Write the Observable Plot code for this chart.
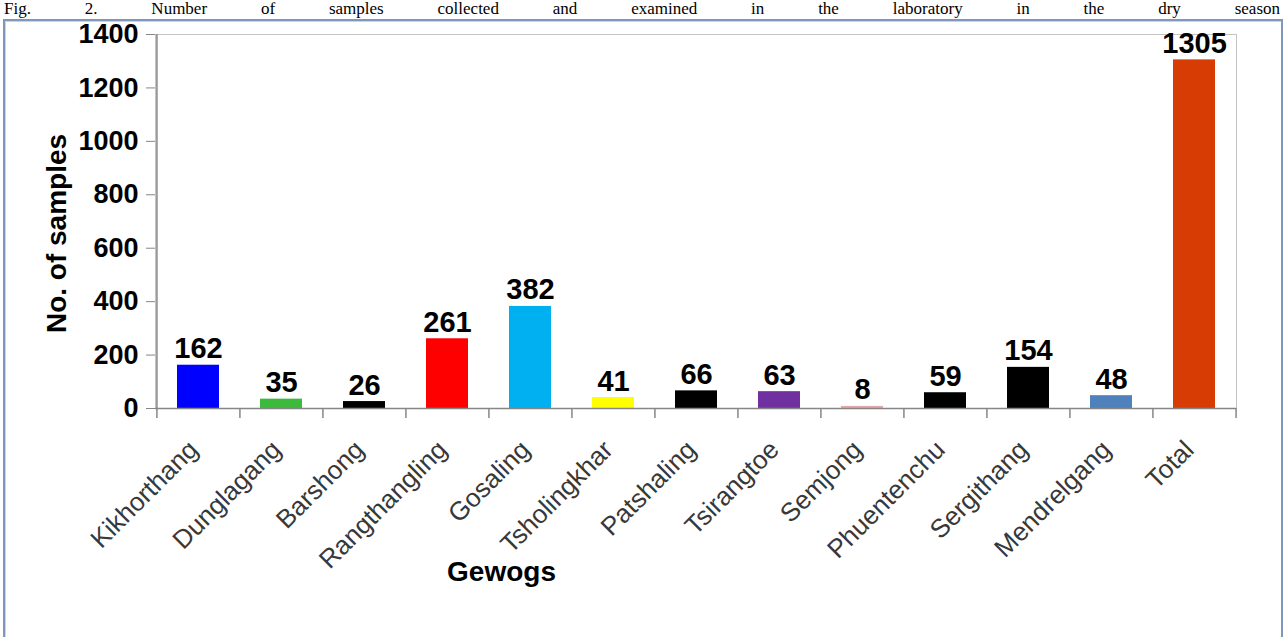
<!DOCTYPE html>
<html><head><meta charset="utf-8">
<script src="https://cdn.jsdelivr.net/npm/d3@7"></script>
<script src="https://cdn.jsdelivr.net/npm/@observablehq/plot@0.6"></script>
<style>
body{margin:0;background:#fff;width:1286px;height:637px;overflow:hidden;position:relative;font-family:"Liberation Sans",Arial,sans-serif}
#cap{position:absolute;left:4px;top:0;width:1276px;height:18px;line-height:18px;font-family:"Liberation Serif","Times New Roman",serif;font-size:17px;text-align:justify;text-align-last:justify;white-space:nowrap;color:#000}
#frame{position:absolute;left:3px;top:19px;width:1276px;height:640px;border:2px solid #7f97b8;box-shadow:inset 1px 1px 0 #c9d5e4;pointer-events:none}
#chart{position:absolute;left:0;top:0}
</style></head><body>
<div id="chart"></div>
<div id="frame"></div>
<div id="cap">Fig. 2. Number of samples collected and examined in the laboratory in the dry season</div>
<script>
const gewogs = ["Kikhorthang","Dunglagang","Barshong","Rangthangling","Gosaling","Tsholingkhar","Patshaling","Tsirangtoe","Semjong","Phuentenchu","Sergithang","Mendrelgang","Total"];
const samples = [162,35,26,261,382,41,66,63,8,59,154,48,1305];
const barColors = ["#0000ff","#3cba3c","#000000","#ff0000","#00b0f0","#ffff00","#000000","#7030a0","#e6a8a8","#000000","#000000","#4f81bd","#d63c04"];
const yTicks = [0,200,400,600,800,1000,1200,1400];
const yLabel = "No. of samples";
const xLabel = "Gewogs";

const data = gewogs.map((g, i) => ({gewog: g, samples: samples[i], color: barColors[i]}));

const W = 1286, H = 637, ML = 155, MR = 50;
const step = (W - ML - MR) / gewogs.length;
const axisGray = "#868686";

const chart = Plot.plot({
  width: W, height: H,
  marginLeft: ML, marginRight: MR, marginTop: 34, marginBottom: 229,
  style: {fontFamily: "'Liberation Sans', Arial, sans-serif", background: "transparent", color: "#000", overflow: "visible"},
  x: {domain: gewogs, paddingInner: 0.5, paddingOuter: 0.25, axis: null},
  y: {domain: [0, 1400], axis: null},
  color: {type: "identity"},
  marks: [
    Plot.frame({stroke: "#c4c4c4"}),
    Plot.barY(data, {x: "gewog", y: "samples", fill: "color"}),
    Plot.ruleY([0], {stroke: axisGray, strokeWidth: 1.5}),
    Plot.ruleX([gewogs[0]], {y1: 0, y2: 1400, dx: -step / 2, stroke: axisGray, strokeWidth: 1.5}),
    Plot.ruleX(gewogs, {x: d => d, y1: 0, y2: 0, insetBottom: -10, dx: -step / 2, stroke: axisGray, strokeWidth: 1.5}),
    Plot.ruleX([gewogs[gewogs.length - 1]], {x: d => d, y1: 0, y2: 0, insetBottom: -10, dx: step / 2, stroke: axisGray, strokeWidth: 1.5}),
    Plot.axisY({ticks: yTicks, tickSize: 9, tickPadding: 8, fontSize: 27, fontWeight: "bold", stroke: axisGray, fill: "#000", label: null, tickFormat: d => String(d)}),
    Plot.text(data, {x: "gewog", y: "samples", text: d => String(d.samples), dy: -7, lineAnchor: "bottom", fontSize: 29, fontWeight: "bold", fill: "#000"}),
    Plot.text(gewogs, {x: d => d, y: 0, text: d => d, rotate: -45, textAnchor: "end", lineAnchor: "middle", dx: -5, dy: 37, fontSize: 26, fill: "#383838"}),
    Plot.text([yLabel], {frameAnchor: "left", textAnchor: "middle", dx: -98, dy: 12, rotate: -90, lineAnchor: "middle", fontSize: 28, fontWeight: "bold", fill: "#000"}),
    Plot.text([xLabel], {frameAnchor: "bottom", textAnchor: "middle", dx: 501 - (ML + (W - MR)) / 2, dy: 164, lineAnchor: "middle", fontSize: 28, fontWeight: "bold", fill: "#000"})
  ]
});
document.getElementById("chart").appendChild(chart);
</script>
</body></html>
